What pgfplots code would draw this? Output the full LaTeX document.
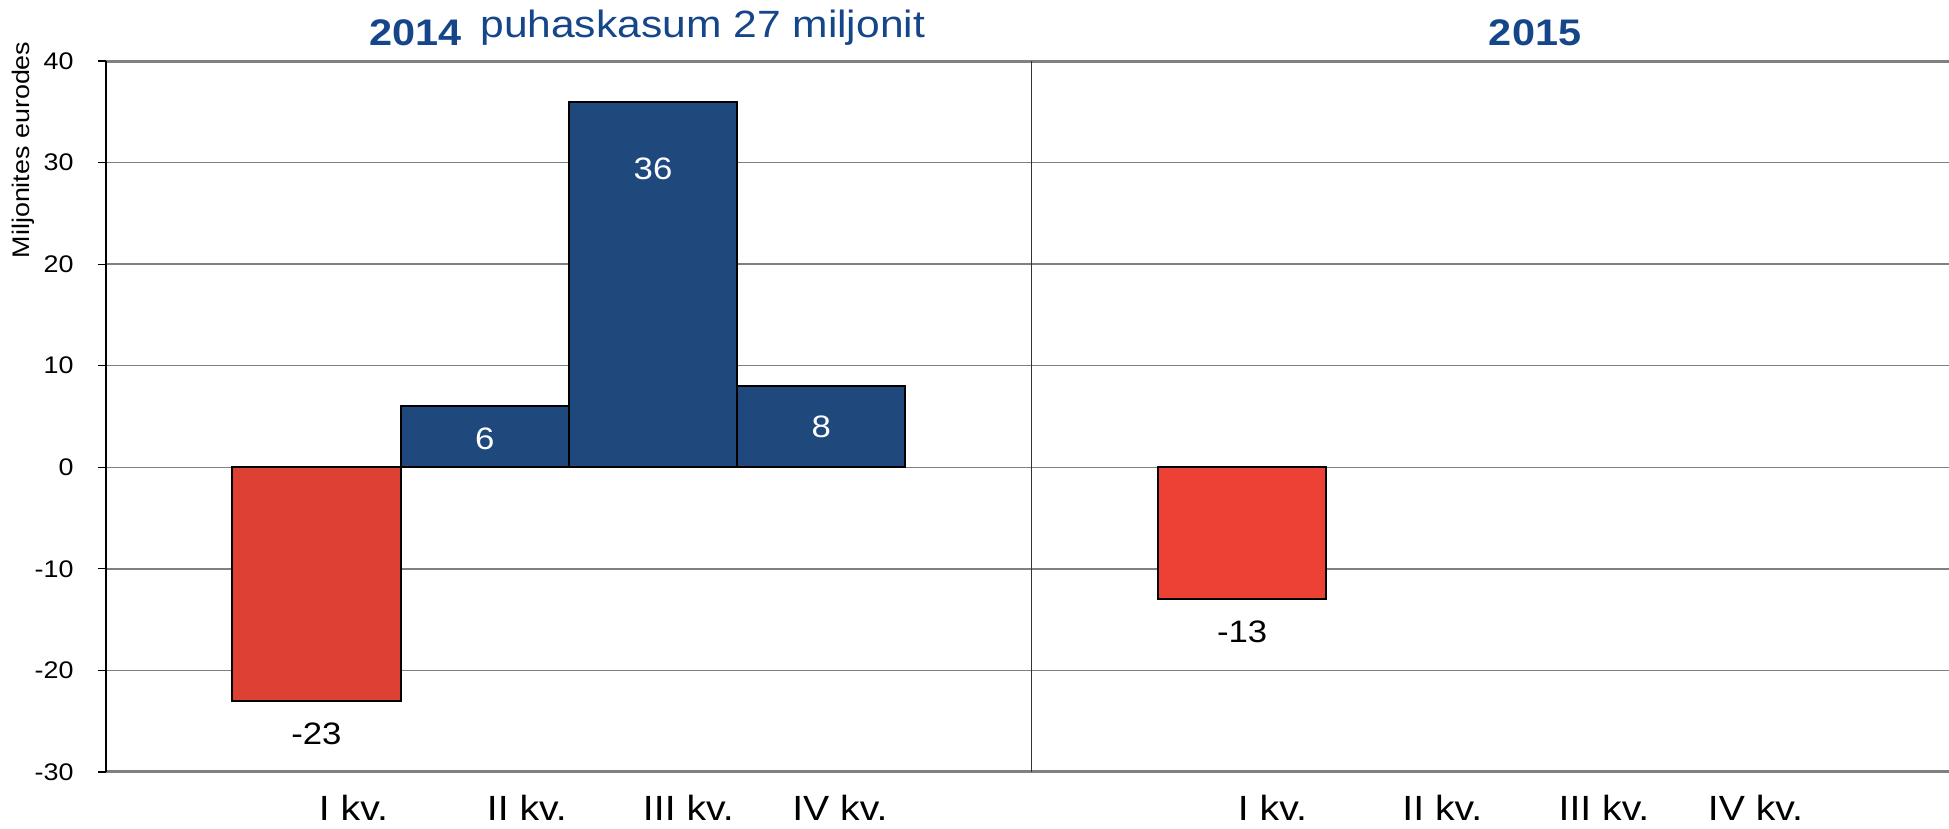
\documentclass[border=0pt]{standalone}
\usepackage{fontspec}
\setmainfont{Liberation Sans}[FakeStretch=1.12]
\usepackage{pgfplots}
\pgfplotsset{compat=1.18}
\definecolor{redA}{RGB}{222,64,51}
\definecolor{redB}{RGB}{237,65,54}
\definecolor{barblue}{RGB}{31,73,125}
\definecolor{titleblue}{RGB}{22,70,138}
\begin{document}
\begin{tikzpicture}
\begin{axis}[
  at={(0,0)}, anchor=south west, scale only axis,
  width=921.5pt, height=355.5pt,
  xmin=0, xmax=10.95, ymin=-30, ymax=40,
  ytick={-30,-20,...,40},
  xtick={1.47,2.50,3.46,4.36,6.93,7.94,8.90,9.80},
  xticklabels={I kv.,II kv.,III kv.,IV kv.,I kv.,II kv.,III kv.,IV kv.},
  xtick style={draw=none},
  ytick style={black, line width=0.6pt},
  tick align=outside, major tick length=4pt,
  axis line style={draw=none},
  ymajorgrids, grid style={gray, line width=0.75pt},
  /pgf/number format/assume math mode=true,
  xticklabel style={font=\fontsize{17.5}{20}\selectfont, anchor=base, yshift=-20.5pt},
  yticklabel style={font=\fontsize{12}{14}\selectfont, anchor=east, inner sep=0pt, xshift=-12pt},
  ylabel={Miljonites eurodes},
  ylabel style={at={(rel axis cs:0,0.875)}, anchor=center, yshift=41.5pt, font=\fontsize{12}{14}\selectfont},
  clip=false,
]
\addplot[ybar, bar width=1, bar shift=0pt, fill=redA, draw=black, line width=1pt] coordinates {(1.25,-23)};
\addplot[ybar, bar width=1, bar shift=0pt, fill=barblue, draw=black, line width=1pt] coordinates {(2.25,6) (3.25,36) (4.25,8)};
\addplot[ybar, bar width=1, bar shift=0pt, fill=redB, draw=black, line width=1pt] coordinates {(6.75,-13)};
\draw[gray, line width=1.5pt] (rel axis cs:0,1) -- (rel axis cs:1,1);
\draw[gray, line width=1.5pt] (rel axis cs:0,0) -- (rel axis cs:1,0);
\draw[black, line width=0.6pt] (rel axis cs:0,0) -- (rel axis cs:0,1);
\draw[black!80, line width=0.6pt] (axis cs:5.5,-30) -- (axis cs:5.5,40);
\node[font=\fontsize{15.5}{18}\selectfont, text=white] at (axis cs:3.25,29.4) {36};
\node[font=\fontsize{15.5}{18}\selectfont, text=white] at (axis cs:2.25,2.85) {6};
\node[font=\fontsize{15.5}{18}\selectfont, text=white] at (axis cs:4.25,3.95) {8};
\node[font=\fontsize{15.5}{18}\selectfont] at (axis cs:1.25,-26.2) {-23};
\node[font=\fontsize{15.5}{18}\selectfont] at (axis cs:6.75,-16.2) {-13};
\node[anchor=base, font=\bfseries\fontsize{18.5}{22}\selectfont, text=titleblue, yshift=8pt] at (rel axis cs:0.168,1) {2014};
\node[anchor=base west, inner sep=0pt, font=\fontsize{19}{22}\selectfont, text=titleblue, yshift=12pt] at (rel axis cs:0.2029,1) {puhaskasum 27 miljonit};
\node[anchor=base, font=\bfseries\fontsize{18.5}{22}\selectfont, text=titleblue, yshift=8pt] at (rel axis cs:0.7754,1) {2015};
\end{axis}
\pgfresetboundingbox
\useasboundingbox (-53pt,-28.5pt) rectangle (921.5pt,386pt);
\end{tikzpicture}
\end{document}
